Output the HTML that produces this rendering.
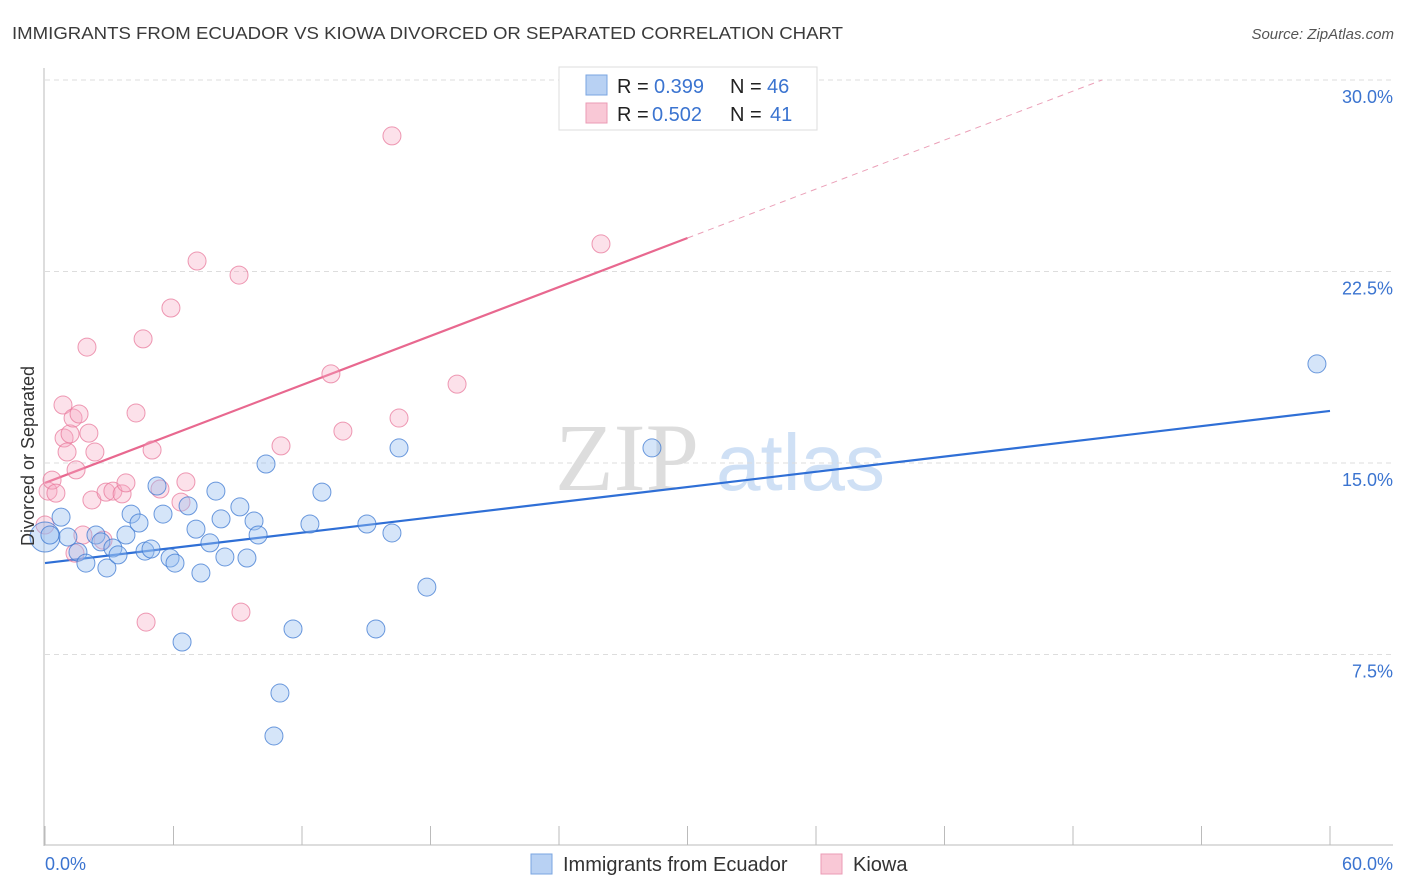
<!DOCTYPE html>
<html><head><meta charset="utf-8"><style>
body{margin:0;background:#fff;font-family:"Liberation Sans",sans-serif}
svg{display:block}
</style></head><body>
<svg id="chart" width="1406" height="892" xmlns="http://www.w3.org/2000/svg">
<text x="12" y="39" font-size="17.5" fill="#3a3a3a" textLength="831" lengthAdjust="spacingAndGlyphs">IMMIGRANTS FROM ECUADOR VS KIOWA DIVORCED OR SEPARATED CORRELATION CHART</text>
<text x="1394" y="39" font-size="15" fill="#555" font-style="italic" text-anchor="end">Source: ZipAtlas.com</text>
<g>
<text x="555" y="490" font-size="96" fill="#ddd" font-family="Liberation Serif,serif">ZIP</text>
<text x="716" y="490" font-size="80" fill="#cfe0f5">atlas</text>
</g>
<g id="grid"></g>
<g id="axes"></g>
<g id="trend"></g>
<g id="points"></g>
<g>
<rect x="559" y="67" width="258" height="63" fill="#fff" stroke="#ddd"/>
<rect x="586" y="75" width="21" height="20" fill="#b8d1f3" stroke="#7aa5e0"/>
<rect x="586" y="103" width="21" height="20" fill="#f9c8d6" stroke="#eb9bb5"/>
<text x="617" y="93" font-size="20" fill="#222">R =</text>
<text x="654" y="93" font-size="20" fill="#3b74d0">0.399</text>
<text x="730" y="93" font-size="20" fill="#222">N =</text>
<text x="767" y="93" font-size="20" fill="#3b74d0">46</text>
<text x="617" y="121" font-size="20" fill="#222">R =</text>
<text x="652" y="121" font-size="20" fill="#3b74d0">0.502</text>
<text x="730" y="121" font-size="20" fill="#222">N =</text>
<text x="770" y="121" font-size="20" fill="#3b74d0">41</text>
</g>
<g>
<rect x="531" y="854" width="21" height="20" fill="#b8d1f3" stroke="#7aa5e0"/>
<text x="563" y="871" font-size="20" fill="#333">Immigrants from Ecuador</text>
<rect x="821" y="854" width="21" height="20" fill="#f9c8d6" stroke="#eb9bb5"/>
<text x="853" y="871" font-size="20" fill="#333">Kiowa</text>
</g>
<text transform="translate(34,456) rotate(-90)" font-size="18" fill="#333" text-anchor="middle">Divorced or Separated</text>
</svg>
<script>
const yTicks=[7.5,15,22.5,30];
const yTickLabels=["7.5%","15.0%","22.5%","30.0%"];
const xTickVals=[0,6,12,18,24,30,36,42,48,54,60];
const ecuadorX=[0,0.23,0.75,1.07,1.54,1.91,2.38,2.61,2.89,3.17,3.41,3.78,4.02,4.39,4.67,4.95,5.23,5.51,5.84,6.07,6.40,6.68,7.05,7.28,7.70,7.98,8.22,8.40,9.10,9.43,9.76,9.95,10.32,10.69,10.97,11.58,12.37,12.93,15.03,15.45,16.20,16.53,17.83,28.34,59.39];
const ecuadorY=[12.10,12.18,12.88,12.10,11.51,11.08,12.18,11.91,10.89,11.67,11.40,12.18,13.00,12.65,11.55,11.63,14.10,13.00,11.28,11.08,7.99,13.32,12.41,10.69,11.87,13.90,12.81,11.32,13.28,11.28,12.73,12.18,14.96,4.31,5.99,8.50,12.61,13.86,12.61,8.50,12.26,15.59,10.14,15.59,18.88];
const kiowaX=[0,0.14,0.33,0.51,0.84,0.89,1.03,1.17,1.31,1.45,1.59,1.40,1.77,1.96,2.05,2.19,2.33,2.71,2.85,3.17,3.60,3.78,4.25,4.58,4.72,5.00,5.37,5.88,6.35,6.58,7.10,9.06,9.15,11.02,13.35,13.91,16.20,16.53,19.24,25.96];
const kiowaY=[12.57,13.90,14.33,13.82,17.27,15.98,15.43,16.14,16.76,14.73,16.92,11.47,12.18,19.54,16.17,13.55,15.43,11.98,13.86,13.90,13.79,14.22,16.96,19.86,8.77,15.51,13.98,21.07,13.47,14.26,22.91,22.36,9.16,15.67,18.49,16.25,27.81,16.76,18.09,23.58];
const ecuadorTrend=[11.08,17.04];
const kiowaTrend=[14.22,0.3197];
const NS="http://www.w3.org/2000/svg";
const X0=45,X1=1330,Y0=846,YPER=191.5/7.5;
function sx(v){return X0+(X1-X0)*v/60;}
function sy(v){return Y0-v*YPER;}
function mk(tag,attrs,parent){const e=document.createElementNS(NS,tag);for(const k in attrs)e.setAttribute(k,attrs[k]);parent.appendChild(e);return e;}
const grid=document.getElementById('grid'),axes=document.getElementById('axes'),trend=document.getElementById('trend'),pts=document.getElementById('points');
yTicks.forEach((t,i)=>{
 const l=mk('line',{x1:45,x2:1393,y1:sy(t),y2:sy(t),stroke:'#ddd','stroke-dasharray':'5,4'},grid);
 
 
 const tx=mk('text',{x:1393,y:sy(t)+23,'font-size':18,fill:'#3b74d0','text-anchor':'end'},grid);
 tx.textContent=yTickLabels[i];
 
 
});
let a=mk('line',{x1:44,x2:44,y1:68,y2:846,stroke:'#bbb'},axes);


a=mk('line',{x1:44,x2:1393,y1:845,y2:845,stroke:'#bbb'},axes);


xTickVals.forEach(v=>{
 const t=mk('line',{x1:sx(v),x2:sx(v),y1:826,y2:845,stroke:'#bbb'},axes);
 
 
});
let xl=mk('text',{x:45,y:870,'font-size':18,fill:'#3b74d0'},axes);xl.textContent='0.0%';


xl=mk('text',{x:1393,y:870,'font-size':18,fill:'#3b74d0','text-anchor':'end'},axes);xl.textContent='60.0%';


function dot(x,y,r,fill,stroke,name){
 const c=mk('circle',{cx:sx(x),cy:sy(y),r:r,fill:fill,stroke:stroke,'stroke-width':1},pts);
 
 
}
kiowaX.forEach((x,i)=>dot(x,kiowaY[i],9,'rgba(246,170,195,0.35)','rgba(232,120,155,0.75)','kiowa-point'));
ecuadorX.forEach((x,i)=>dot(x,ecuadorY[i],i===0?15:9,'rgba(150,190,240,0.4)','rgba(60,120,210,0.75)','ecuador-point'));
let tl=mk('line',{x1:sx(0),y1:sy(ecuadorTrend[0]),x2:sx(60),y2:sy(ecuadorTrend[1]),stroke:'#2f6fd6','stroke-width':2.2},trend);


const kEnd=30, kDash=(30-kiowaTrend[0])/kiowaTrend[1];
tl=mk('line',{x1:sx(0),y1:sy(kiowaTrend[0]),x2:sx(kEnd),y2:sy(kiowaTrend[0]+kiowaTrend[1]*kEnd),stroke:'#e8688f','stroke-width':2.2},trend);


tl=mk('line',{x1:sx(kEnd),y1:sy(kiowaTrend[0]+kiowaTrend[1]*kEnd),x2:sx(kDash),y2:sy(30),stroke:'#eba0b8','stroke-width':1,'stroke-dasharray':'6,5'},trend);


</script>
</body></html>
